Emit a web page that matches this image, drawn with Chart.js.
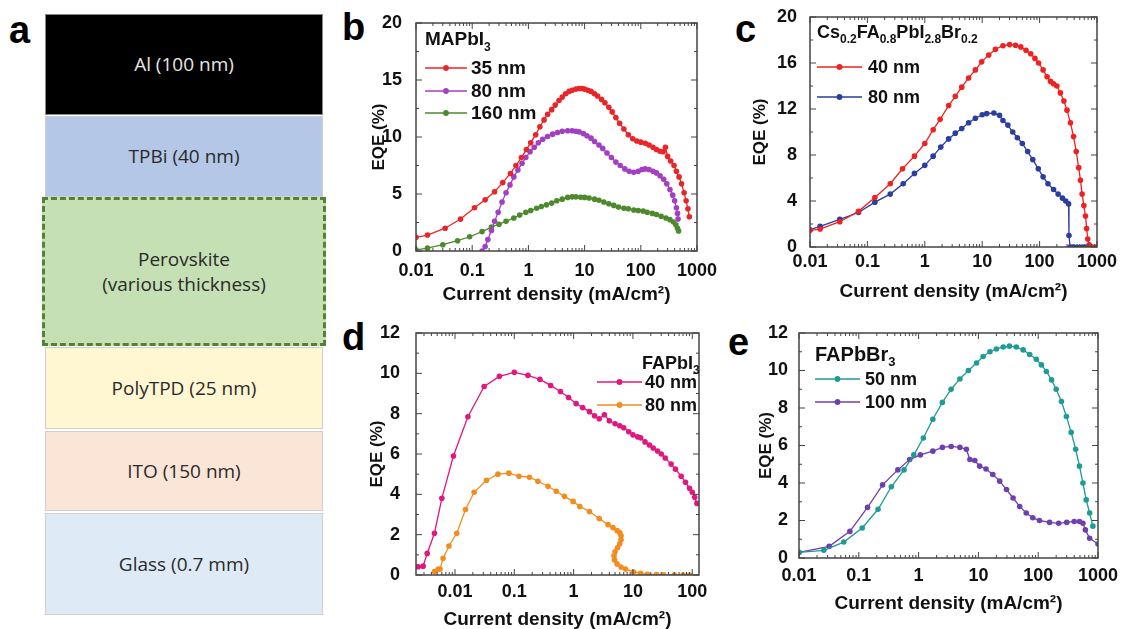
<!DOCTYPE html>
<html>
<head>
<meta charset="utf-8">
<script src="https://cdn.jsdelivr.net/npm/chart.js@4.4.0/dist/chart.umd.min.js"></script>
<style>
body{margin:0;background:#fff;width:1121px;height:629px;position:relative;overflow:hidden;font-family:"Liberation Sans",Arial,sans-serif}
canvas{position:absolute}
.letter{position:absolute;font:bold 38px "Liberation Sans",Arial,sans-serif;line-height:1;color:#000}
.layer{position:absolute;left:45px;width:278px;display:flex;align-items:center;justify-content:center;text-align:center;
  font:19px "Open Sans",sans-serif;line-height:25px;color:#2a2a2a;box-sizing:border-box;border:1px solid #cfcfcf}
</style>
</head>
<body>
<!-- panel a: device stack -->
<div class="letter" style="left:9px;top:11px">a</div>
<div class="layer" style="top:14px;height:101px;background:#000;color:#e6e6e6;border-color:#888">Al (100 nm)</div>
<div class="layer" style="top:116px;height:81px;background:#b4c7e7">TPBi (40 nm)</div>
<div class="layer" style="top:197px;height:149px;left:42px;width:284px;background:#c5e0b4;border:3px dashed #548235">Perovskite<br>(various thickness)</div>
<div class="layer" style="top:347px;height:82px;background:#fff6d2">PolyTPD (25 nm)</div>
<div class="layer" style="top:431px;height:80px;background:#fbe5d7">ITO (150 nm)</div>
<div class="layer" style="top:513px;height:102px;background:#deebf7">Glass (0.7 mm)</div>

<div class="letter" style="left:342px;top:8px">b</div>
<div class="letter" style="left:735px;top:10px">c</div>
<div class="letter" style="left:342px;top:318px">d</div>
<div class="letter" style="left:728px;top:323px">e</div>

<canvas id="cb" width="380" height="310" style="left:340px;top:0"></canvas>
<canvas id="cc" width="400" height="310" style="left:720px;top:0"></canvas>
<canvas id="cd" width="380" height="319" style="left:340px;top:310px"></canvas>
<canvas id="ce" width="400" height="319" style="left:720px;top:310px"></canvas>

<script>
// ---- panel b: MAPbI3 ----
const bTicksX = [0.01, 0.1, 1, 10, 100, 1000]
const bLabelsX = ['0.01', '0.1', '1', '10', '100', '1000']
const bTicksY = [0, 5, 10, 15, 20]
const b35x = [0.01,0.016,0.033,0.062,0.11,0.17,0.25,0.35,0.48,0.6,0.75,0.92,1.1,1.35,1.6,1.9,2.2,2.6,3.0,3.5,4.0,4.6,5.3,6.0,7.0,8.0,9.0,10,11.5,13,15,17,20,23,27,31,36,42,50,60,72,85,100,120,140,165,190,220,250,275,300,340,390,430,480,530,590,640,690,730]
const b35y = [1.2,1.4,2.0,2.8,3.8,4.5,5.2,6.0,6.8,7.5,8.2,8.9,9.5,10.2,10.9,11.5,12.0,12.4,12.8,13.2,13.5,13.8,14.0,14.1,14.2,14.25,14.25,14.2,14.1,14.0,13.8,13.6,13.3,13.0,12.6,12.2,11.7,11.2,10.7,10.2,9.85,9.65,9.55,9.45,9.3,9.1,8.9,8.75,8.7,9.1,8.3,7.9,7.5,7.0,6.5,5.9,5.1,4.4,3.7,3.0]
const b80x = [0.15,0.17,0.19,0.22,0.25,0.29,0.34,0.4,0.47,0.55,0.65,0.77,0.9,1.07,1.27,1.5,1.8,2.2,2.7,3.3,4,5,6,7,8,9.5,11,13,15,18,21,25,30,36,43,52,62,75,90,105,120,140,165,190,220,255,290,330,370,400,430,450,460]
const b80y = [0,0.4,1.0,1.8,2.6,3.4,4.3,5.1,5.8,6.5,7.1,7.7,8.2,8.7,9.1,9.5,9.8,10.05,10.25,10.4,10.5,10.55,10.55,10.5,10.45,10.3,10.1,9.9,9.6,9.3,9.0,8.6,8.2,7.8,7.5,7.2,7.0,6.9,7.0,7.15,7.2,7.15,7.0,6.85,6.6,6.3,5.9,5.4,4.9,4.4,3.8,3.3,2.8]
const b160x = [0.01,0.016,0.03,0.055,0.09,0.15,0.22,0.3,0.4,0.55,0.7,0.9,1.1,1.4,1.7,2.1,2.6,3.2,4,5,6,7,8.5,10,12,15,18,22,27,33,40,50,60,75,90,110,130,160,190,230,280,330,380,420,450,470]
const b160y = [0.1,0.25,0.55,0.9,1.25,1.7,2.1,2.35,2.6,2.9,3.15,3.4,3.55,3.75,3.9,4.05,4.2,4.4,4.55,4.7,4.75,4.75,4.72,4.7,4.65,4.55,4.45,4.3,4.15,4.0,3.85,3.75,3.7,3.6,3.55,3.5,3.4,3.3,3.2,3.05,2.9,2.75,2.55,2.3,2.0,1.75]

// ---- panel c: Cs0.2FA0.8PbI2.8Br0.2 ----
const cTicksX = [0.01, 0.1, 1, 10, 100, 1000]
const cLabelsX = ['0.01', '0.1', '1', '10', '100', '1000']
const cTicksY = [0, 4, 8, 12, 16, 20]
const c40x = [0.01,0.015,0.033,0.07,0.135,0.25,0.41,0.66,1.0,1.4,1.85,2.6,3.4,4.4,5.8,7.6,9.8,13,17,23,30,38,47,58,70,83,96,115,135,155,175,200,230,265,300,345,390,435,480,515,550,590,630,660,690,730,780,930]
const c40y = [1.45,1.56,2.2,3.1,4.3,5.5,6.8,7.9,9.0,10.2,11.1,12.3,13.1,13.9,14.7,15.4,16.1,16.7,17.2,17.5,17.6,17.55,17.4,17.1,16.8,16.4,16.0,15.4,14.8,14.4,14.2,14.0,13.4,12.7,11.9,10.8,9.6,8.3,6.9,5.8,4.6,3.6,2.7,1.6,0.7,0.2,0.03,0]
const c80x = [0.01,0.015,0.033,0.07,0.135,0.25,0.42,0.66,1.0,1.4,1.9,2.6,3.4,4.4,5.8,7.6,10,12,16,20,23,28,34,41,50,62,76,95,115,140,175,210,250,285,320,325,340,380,450,550,650]
const c80y = [1.5,1.8,2.4,3.0,3.9,4.6,5.5,6.4,7.1,7.9,8.7,9.4,9.9,10.3,10.8,11.2,11.5,11.6,11.65,11.45,11.0,10.6,10.0,9.5,9.0,8.3,7.6,6.8,6.1,5.5,5.0,4.6,4.25,4.0,3.75,1.0,0,0,0,0,0]

// ---- panel d: FAPbI3 ----
const dTicksX = [0.01, 0.1, 1, 10, 100]
const dLabelsX = ['0.01', '0.1', '1', '10', '100']
const dTicksY = [0, 2, 4, 6, 8, 10, 12]
const d40x = [0.0024,0.0029,0.0034,0.0045,0.006,0.0094,0.0165,0.031,0.056,0.1,0.17,0.27,0.41,0.6,0.82,1.1,1.42,1.85,2.25,2.7,3.3,4.0,5,6,7,8.5,10,12,13.5,16,19,22,26,30,35,44,52,65,77,90,100,110,120]
const d40y = [0.41,0.44,1.07,2.07,3.8,5.9,7.85,9.35,9.85,10.05,9.9,9.7,9.4,9.1,8.8,8.5,8.3,8.1,7.9,7.75,7.95,7.65,7.5,7.4,7.3,7.1,6.95,6.85,6.8,6.6,6.45,6.3,6.15,6.0,5.8,5.5,5.25,4.9,4.6,4.3,4.1,3.85,3.55]
const d80x = [0.0045,0.0052,0.0056,0.0063,0.0079,0.0107,0.015,0.021,0.034,0.053,0.081,0.12,0.18,0.25,0.37,0.51,0.7,0.98,1.27,1.85,2.7,3.8,4.6,5.4,6.0,6.3,6.3,6.0,5.5,5.0,4.8,4.9,5.4,6.3,7.5,10.2,13.5,17.5,25,33,50,70,90]
const d80y = [0.17,0.28,0.3,0.83,1.44,2.07,3.25,4.1,4.7,5.0,5.05,4.9,4.85,4.65,4.4,4.15,3.9,3.65,3.4,3.15,2.8,2.5,2.35,2.2,2.1,1.95,1.75,1.55,1.35,1.15,0.95,0.75,0.55,0.4,0.3,0.15,0.08,0.04,0.02,0.01,0,0,0]

// ---- panel e: FAPbBr3 ----
const eTicksX = [0.01, 0.1, 1, 10, 100, 1000]
const eLabelsX = ['0.01', '0.1', '1', '10', '100', '1000']
const eTicksY = [0, 2, 4, 6, 8, 10, 12]
const e50x = [0.01,0.026,0.056,0.114,0.21,0.35,0.57,0.83,1.2,1.73,2.5,3.5,4.9,6.8,9.3,12,15.6,20,26,33,43,56,72,93,113,137,167,200,245,296,356,423,490,560,635,725,820]
const e50y = [0.3,0.41,0.85,1.6,2.6,3.8,4.7,5.5,6.4,7.4,8.3,9.0,9.55,10.0,10.4,10.75,11.0,11.15,11.25,11.3,11.25,11.1,10.85,10.6,10.3,9.95,9.5,9.0,8.35,7.55,6.7,5.8,4.9,4.0,3.1,2.4,1.7]
const e100x = [0.01,0.032,0.071,0.14,0.25,0.45,0.71,1.07,1.73,2.5,3.5,4.9,6.3,7.2,8.7,10.5,13.4,17.4,22.7,29.5,38,49,63,81,105,155,220,300,400,490,560,615,725,1000]
const e100y = [0.3,0.62,1.42,2.7,3.9,4.7,5.25,5.5,5.7,5.9,5.95,5.9,5.8,5.25,5.2,4.9,4.75,4.45,4.1,3.65,3.2,2.75,2.4,2.15,2.0,1.9,1.85,1.9,1.95,1.95,1.85,1.5,1.05,0.75]

const FONT = '"Liberation Sans", Arial, sans-serif'

const series = (label, xs, ys, color) => ({
  label,
  data: xs.map((x, i) => ({x, y: ys[i]})),
  borderColor: color,
  backgroundColor: color,
  borderWidth: 1.3,
  pointRadius: 2.8,
  pointBorderWidth: 0,
  pointHoverRadius: 0,
  tension: 0
})

// box frame with inward ticks on all four sides
const frame = {
  id: 'frame',
  afterDatasetsDraw(chart) {
    const {ctx, chartArea: a, scales: {x, y}} = chart
    const seg = (x0, y0, x1, y1) => { ctx.beginPath(); ctx.moveTo(x0, y0); ctx.lineTo(x1, y1); ctx.stroke() }
    ctx.save()
    ctx.strokeStyle = '#444'
    ctx.lineWidth = 1
    const e0 = Math.floor(Math.log10(x.min)), e1 = Math.ceil(Math.log10(x.max))
    for (let e = e0; e <= e1; e++) {
      for (let k = 1; k < 10; k++) {
        const v = k * Math.pow(10, e)
        if (v < x.min * 0.999 || v > x.max * 1.001) continue
        const px = x.getPixelForValue(v), len = k === 1 ? 6 : 3
        seg(px, a.bottom, px, a.bottom - len)
        seg(px, a.top, px, a.top + len)
      }
    }
    const yt = y.ticks.map(t => t.value)
    yt.forEach((v, i) => {
      const py = y.getPixelForValue(v)
      seg(a.left, py, a.left + 6, py)
      seg(a.right, py, a.right - 6, py)
      if (i < yt.length - 1) {
        const pm = y.getPixelForValue((v + yt[i + 1]) / 2)
        seg(a.left, pm, a.left + 3, pm)
        seg(a.right, pm, a.right - 3, pm)
      }
    })
    ctx.lineWidth = 1.5
    ctx.strokeRect(a.left, a.top, a.right - a.left, a.bottom - a.top)
    ctx.restore()
  }
}

// legend drawn inside the plot, title with subscripts
const inLegend = (L) => ({
  id: 'inlegend',
  afterDraw(chart) {
    const ctx = chart.ctx
    ctx.save()
    ctx.textBaseline = 'middle'
    ctx.fillStyle = '#111'
    let x = L.titleX
    L.title.forEach(([t, sub]) => {
      ctx.font = sub ? `bold ${L.sub}px ${FONT}` : `bold ${L.tsize}px ${FONT}`
      ctx.fillText(t, x, L.titleY + (sub ? L.tsize * 0.38 : 0))
      x += ctx.measureText(t).width
    })
    chart.data.datasets.forEach((ds, i) => {
      const y = L.rows[i]
      ctx.strokeStyle = ds.borderColor
      ctx.lineWidth = 1.3
      ctx.beginPath(); ctx.moveTo(L.x0, y); ctx.lineTo(L.x1, y); ctx.stroke()
      ctx.fillStyle = ds.borderColor
      ctx.beginPath(); ctx.arc((L.x0 + L.x1) / 2, y, 2.9, 0, Math.PI * 2); ctx.fill()
      ctx.fillStyle = '#111'
      ctx.font = `bold ${L.size}px ${FONT}`
      ctx.fillText(ds.label, L.tx, y + 1)
    })
    ctx.restore()
  }
})

const makeChart = (id, p) => new Chart(document.getElementById(id), {
  type: 'line',
  data: {datasets: p.datasets},
  options: {
    responsive: false,
    animation: false,
    devicePixelRatio: 1,
    layout: {padding: p.pad},
    plugins: {legend: {display: false}, tooltip: {enabled: false}},
    scales: {
      x: {
        type: 'logarithmic',
        min: p.xMin, max: p.xMax,
        grid: {display: false}, border: {display: false},
        afterBuildTicks: s => { s.ticks = p.ticksX.map(v => ({value: v})) },
        afterFit: s => { s.height = p.xH },
        ticks: {
          autoSkip: false, maxRotation: 0, padding: p.xPad, color: '#111',
          font: {family: FONT, size: 18, weight: 'bold'},
          callback: (v, i) => p.labelsX[i]
        },
        title: {display: true, text: 'Current density (mA/cm²)', color: '#111',
          font: {family: FONT, size: 19, weight: 'bold'}, padding: {top: 0, bottom: p.xtPad}}
      },
      y: {
        min: p.ticksY[0], max: p.ticksY[p.ticksY.length - 1],
        grid: {display: false}, border: {display: false},
        afterBuildTicks: s => { s.ticks = p.ticksY.map(v => ({value: v})) },
        afterFit: s => { s.width = p.yW },
        ticks: {padding: p.yPad, color: '#111', font: {family: FONT, size: 18, weight: 'bold'}},
        title: {display: true, text: 'EQE (%)', color: '#111',
          font: {family: FONT, size: 17, weight: 'bold'}, padding: {top: p.ytPad, bottom: 0}}
      }
    }
  },
  plugins: [frame, inLegend(p.legend)]
})

makeChart('cb', {
  datasets: [series('35 nm', b35x, b35y, '#e8262a'), series('80 nm', b80x, b80y, '#a33fc2'), series('160 nm', b160x, b160y, '#4d8a2e')],
  pad: {left: 22, right: 23, top: 23, bottom: 0}, yW: 54, xH: 59,
  xMin: 0.01, xMax: 1000, ticksX: bTicksX, labelsX: bLabelsX, ticksY: bTicksY,
  xPad: 1, yPad: 6, xtPad: 4, ytPad: 7,
  legend: {title: [['MAPbI', 0], ['3', 1]], titleX: 85, titleY: 40, tsize: 19, sub: 12,
    rows: [68, 91, 113], x0: 85, x1: 127, tx: 131, size: 19}
})

makeChart('cc', {
  datasets: [series('40 nm', c40x, c40y, '#ee2222'), series('80 nm', c80x, c80y, '#2b3d9e')],
  pad: {left: 27, right: 23, top: 17, bottom: 0}, yW: 63, xH: 63,
  xMin: 0.01, xMax: 1000, ticksX: cTicksX, labelsX: cLabelsX, ticksY: cTicksY,
  xPad: -4, yPad: 5, xtPad: 7, ytPad: 3,
  legend: {title: [['Cs', 0], ['0.2', 1], ['FA', 0], ['0.8', 1], ['PbI', 0], ['2.8', 1], ['Br', 0], ['0.2', 1]],
    titleX: 97, titleY: 33, tsize: 18, sub: 12, rows: [67, 97], x0: 97, x1: 142, tx: 148, size: 18}
})

makeChart('cd', {
  datasets: [series('40 nm', d40x, d40y, '#e0177d'), series('80 nm', d80x, d80y, '#f28c1e')],
  pad: {left: 22, right: 21, top: 23, bottom: 0}, yW: 54, xH: 54,
  xMin: 0.0022, xMax: 130, ticksX: dTicksX, labelsX: dLabelsX, ticksY: dTicksY,
  xPad: -2, yPad: 8, xtPad: -2, ytPad: 5,
  legend: {title: [['FAPbI', 0], ['3', 1]], titleX: 302, titleY: 54, tsize: 18, sub: 12,
    rows: [72, 95], x0: 257, x1: 302, tx: 305, size: 18}
})

makeChart('ce', {
  datasets: [series('50 nm', e50x, e50y, '#1d9c96'), series('100 nm', e100x, e100y, '#6f3fb0')],
  pad: {left: 34, right: 22, top: 23, bottom: 0}, yW: 45, xH: 71,
  xMin: 0.01, xMax: 1000, ticksX: eTicksX, labelsX: eLabelsX, ticksY: eTicksY,
  xPad: -1, yPad: 3, xtPad: 14, ytPad: 2,
  legend: {title: [['FAPbBr', 0], ['3', 1]], titleX: 95, titleY: 45, tsize: 20, sub: 13,
    rows: [69, 92], x0: 95, x1: 140, tx: 145, size: 18}
})
</script>
</body>
</html>
